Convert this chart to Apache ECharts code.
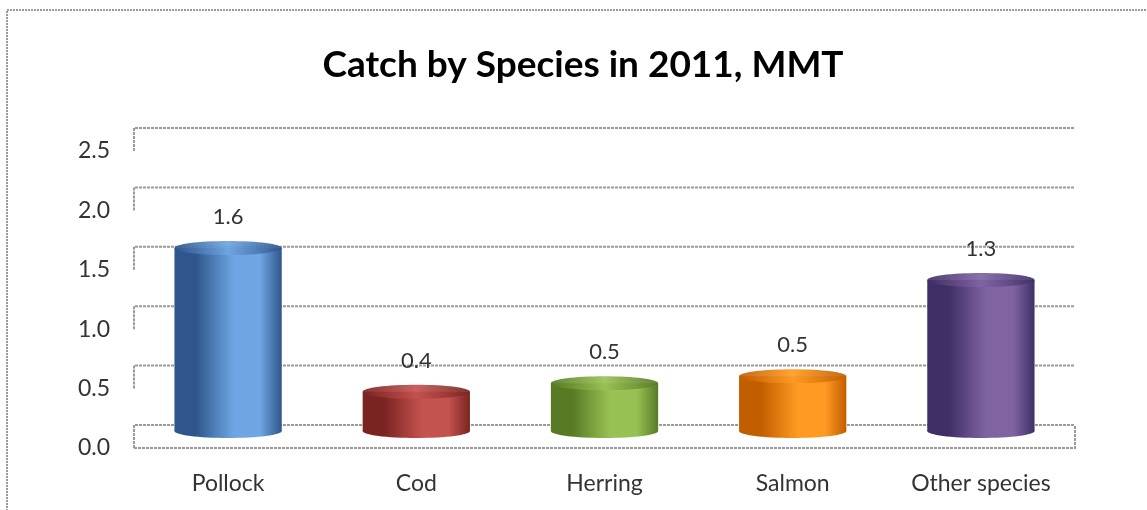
<!DOCTYPE html>
<html>
<head>
<meta charset="utf-8">
<script src="https://cdn.jsdelivr.net/npm/echarts@6/dist/echarts.min.js"></script>
<style>
	html, body { margin: 0; padding: 0; background: #fff; }
	#chart { width: 1147px; height: 510px; }
</style>
</head>
<body>
<div id="chart"></div>
<script>
/* 数据 */
var categories = ['Pollock', 'Cod', 'Herring', 'Salmon', 'Other species'];
var catchValues = [1.6, 0.39, 0.46, 0.52, 1.33];
var yTicks = [0, 0.5, 1.0, 1.5, 2.0, 2.5];

/* 颜色 [暗, 亮] */
var barColors = [
	['#2f568c', '#6ea5e2'],
	['#7a2421', '#c4524f'],
	['#587a25', '#98c153'],
	['#c25d00', '#ff9b22'],
	['#3f2f66', '#8064a2']
];

var FONT = 'Lato, "Liberation Sans", sans-serif';
var DEPTH = 23;      // 背景墙深度
var BAR_SHIFT = 10;  // 柱子在墙中间的位置

var myChart = echarts.init(document.getElementById('chart'));

function gridItem(params, api) {
	var cs = params.coordSys;
	var v = api.value(1);
	var yF = api.coord([0, v])[1];
	var yB = yF - DEPTH;
	var left = cs.x, right = cs.x + cs.width;
	var st = { stroke: '#999', lineWidth: 2, lineDash: [3, 1], fill: null };
	var children = [{
		type: 'polyline',
		shape: { points: [[left, yF], [left, yB], [right, yB]] },
		style: st
	}];
	if (v === 0) {
		children.push({
			type: 'polyline',
			shape: { points: [[left, yF], [right, yF], [right, yB]] },
			style: st
		});
	}
	return { type: 'group', children: children };
}

function cylinderItem(params, api) {
	var idx = api.value(0);
	var v = api.value(1);
	var top = api.coord([idx, v]);
	var base = api.coord([idx, 0]);
	var bw = api.size([1, 0])[0] * 0.57;
	var rx = bw / 2, ry = 7;
	var cx = top[0];
	var yTop = top[1] - BAR_SHIFT;
	var yBot = base[1] - BAR_SHIFT - ry;
	var c = barColors[idx % barColors.length];
	var bodyFill = new echarts.graphic.LinearGradient(0, 0, 1, 0, [
		{ offset: 0, color: c[0] },
		{ offset: 0.2, color: c[0] },
		{ offset: 0.55, color: c[1] },
		{ offset: 0.8, color: c[1] },
		{ offset: 1, color: c[0] }
	]);
	var topFill = new echarts.graphic.LinearGradient(0, 0, 1, 0, [
		{ offset: 0, color: c[0] },
		{ offset: 0.5, color: c[1] },
		{ offset: 1, color: c[0] }
	]);
	return {
		type: 'group',
		children: [
			{ type: 'ellipse', shape: { cx: cx, cy: yBot, rx: rx, ry: ry }, style: { fill: bodyFill } },
			{ type: 'rect', shape: { x: cx - rx, y: yTop, width: bw, height: yBot - yTop }, style: { fill: bodyFill } },
			{ type: 'ellipse', shape: { cx: cx, cy: yTop, rx: rx, ry: ry }, style: { fill: topFill, opacity: 0.92 } },
			{
				type: 'text',
				style: {
					text: v.toFixed(1), x: cx, y: yTop - 31,
					align: 'center', verticalAlign: 'middle',
					fontSize: 22, fontFamily: FONT, fill: '#333'
				}
			}
		]
	};
}

option = {
	animation: false,
	backgroundColor: '#fff',
	graphic: [
		{
			type: 'rect', silent: true, z: -1,
			shape: { x: 7, y: 10, width: 1160, height: 520 },
			style: { fill: null, stroke: '#9a9a9a', lineWidth: 2, lineDash: [2, 1] }
		},
		{
			type: 'text',
			style: {
				text: 'Catch by Species in 2011, MMT', x: 583, y: 65,
				align: 'center', verticalAlign: 'middle',
				fontSize: 37, fontWeight: 'bold', fontFamily: FONT, fill: '#000'
			}
		}
	],
	grid: {
		left: 134,
		right: 72,
		top: 151,
		bottom: 62
	},
	xAxis: {
		type: 'category',
		data: categories,
		axisLine: { show: false },
		axisTick: { show: false },
		axisLabel: { margin: 24, fontSize: 23, fontFamily: FONT, color: '#333' }
	},
	yAxis: {
		type: 'value',
		min: 0,
		max: 2.5,
		interval: 0.5,
		axisLine: { show: false },
		axisTick: { show: false },
		splitLine: { show: false },
		axisLabel: {
			margin: 24, fontSize: 23, fontFamily: FONT, color: '#333',
			formatter: function (v) { return v.toFixed(1); }
		}
	},
	series: [
		{
			type: 'custom',
			name: 'walls',
			silent: true,
			z: 1,
			renderItem: gridItem,
			data: yTicks.map(function (v) { return [0, v]; })
		},
		{
			type: 'custom',
			name: 'Catch',
			z: 2,
			renderItem: cylinderItem,
			data: catchValues.map(function (v, i) { return [i, v]; })
		}
	]
};

myChart.setOption(option);
</script>
</body>
</html>
